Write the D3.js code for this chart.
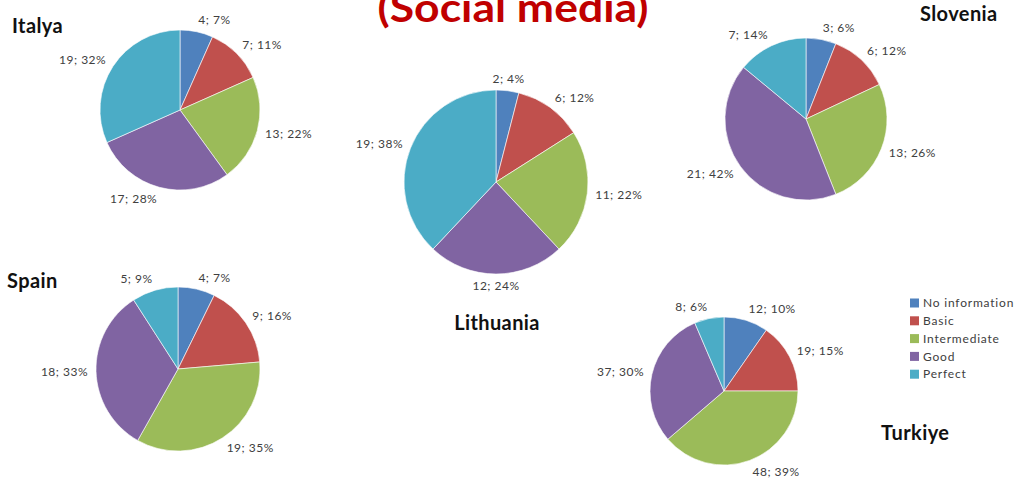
<!DOCTYPE html>
<html>
<head>
<meta charset="utf-8">
<script src="https://cdn.jsdelivr.net/npm/d3@7"></script>
<style>
  body { margin: 0; background: #fff; }
  text { font-family: Lato, "Open Sans", sans-serif; }
</style>
</head>
<body>
<svg width="1019" height="489"></svg>
<script>
// categories + colours
var levels = ["No information", "Basic", "Intermediate", "Good", "Perfect"];
var colors = ["#4F81BD", "#C0504D", "#9BBB59", "#8064A2", "#4BACC6"];

// counts and the percent labels as printed
var italya = [4, 7, 13, 17, 19];
var italyaPct = ["7%", "11%", "22%", "28%", "32%"];
var lithuania = [2, 6, 11, 12, 19];
var lithuaniaPct = ["4%", "12%", "22%", "24%", "38%"];
var slovenia = [3, 6, 13, 21, 7];
var sloveniaPct = ["6%", "12%", "26%", "42%", "14%"];
var spain = [4, 9, 19, 18, 5];
var spainPct = ["7%", "16%", "35%", "33%", "9%"];
var turkiye = [12, 19, 48, 37, 8];
var turkiyePct = ["10%", "15%", "39%", "30%", "6%"];

var svg = d3.select("svg");

// title (top is cut off in the original)
svg.append("text")
    .attr("x", 513)
    .attr("y", 22)
    .attr("text-anchor", "middle")
    .attr("textLength", 271)
    .attr("lengthAdjust", "spacingAndGlyphs")
    .style("font-size", "40px")
    .style("font-weight", "bold")
    .style("fill", "#C00000")
    .text("(Social media)");

var pie = d3.pie().sort(null);

function drawPie(values, pcts, cx, cy, r) {
    var g = svg.append("g").attr("transform", "translate(" + cx + "," + cy + ")");
    var arc = d3.arc().innerRadius(0).outerRadius(r);
    var arcs = pie(values);

    g.selectAll("path")
        .data(arcs)
        .enter().append("path")
        .attr("d", arc)
        .style("fill", function (d, i) { return colors[i]; })
        .style("stroke", "#fff")
        .style("stroke-width", 0.6);

    // labels outside each slice
    g.selectAll("text")
        .data(arcs)
        .enter().append("text")
        .attr("x", function (d) {
            var a = (d.startAngle + d.endAngle) / 2;
            return Math.sin(a) * (r + 8);
        })
        .attr("y", function (d) {
            var a = (d.startAngle + d.endAngle) / 2;
            return -Math.cos(a) * (r + 12);
        })
        .attr("dy", "0.35em")
        .attr("text-anchor", function (d) {
            var s = Math.sin((d.startAngle + d.endAngle) / 2);
            if (Math.abs(s) < 0.15) return "middle";
            return s > 0 ? "start" : "end";
        })
        .style("font-size", "12px")
        .style("letter-spacing", "0.5px")
        .style("fill", "#404040")
        .text(function (d, i) { return d.data + "; " + pcts[i]; });
}

drawPie(italya, italyaPct, 180, 110, 80);
drawPie(lithuania, lithuaniaPct, 496, 182, 92);
drawPie(slovenia, sloveniaPct, 806, 119, 81);
drawPie(spain, spainPct, 178, 369, 82);
drawPie(turkiye, turkiyePct, 724, 391, 74);

// country names
var names = [
    { t: "Italya", x: 12, y: 33, a: "start" },
    { t: "Slovenia", x: 920, y: 21, a: "start" },
    { t: "Spain", x: 7, y: 288, a: "start" },
    { t: "Lithuania", x: 497, y: 330, a: "middle" },
    { t: "Turkiye", x: 881, y: 440, a: "start" }
];
svg.selectAll(".country")
    .data(names)
    .enter().append("text")
    .attr("class", "country")
    .attr("x", function (d) { return d.x; })
    .attr("y", function (d) { return d.y; })
    .attr("text-anchor", function (d) { return d.a; })
    .style("font-size", "20px")
    .style("letter-spacing", "0.4px")
    .style("font-weight", "bold")
    .style("fill", "#111")
    .text(function (d) { return d.t; });

// legend
var legend = svg.append("g").attr("transform", "translate(910,303)");
var item = legend.selectAll("g")
    .data(levels)
    .enter().append("g")
    .attr("transform", function (d, i) { return "translate(0," + (i * 17.8) + ")"; });
item.append("rect")
    .attr("x", 0).attr("y", -4.5)
    .attr("width", 9).attr("height", 9)
    .style("fill", function (d, i) { return colors[i]; });
item.append("text")
    .attr("x", 13)
    .attr("dy", "0.35em")
    .style("font-size", "12px")
    .style("letter-spacing", "0.8px")
    .style("fill", "#404040")
    .text(function (d) { return d; });
</script>
</body>
</html>
